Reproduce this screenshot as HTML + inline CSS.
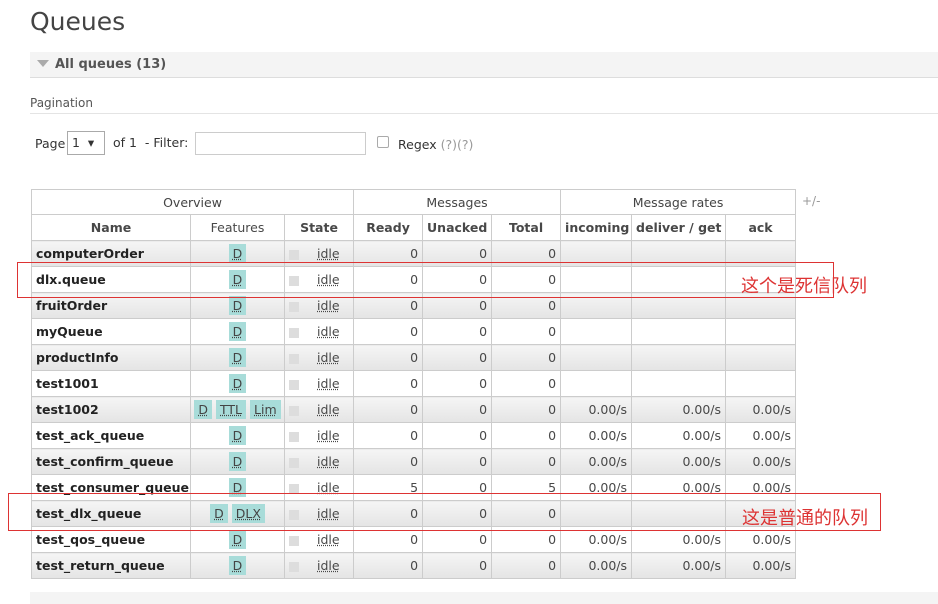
<!DOCTYPE html>
<html><head><meta charset="utf-8"><style>
body{margin:0;width:938px;height:601px;background:#fff;font-family:"DejaVu Sans","Liberation Sans",sans-serif;color:#484848;position:relative;overflow:hidden}
.a{position:absolute}
h1{position:absolute;left:30px;top:7px;margin:0;font-weight:normal;font-size:25px;color:#444;font-family:"DejaVu Sans",sans-serif}
.bar{left:30px;top:52px;width:908px;height:25px;background:#f4f4f4;border-bottom:1px solid #ddd}
table{position:absolute;left:31px;top:189px;width:764px;border-collapse:collapse;table-layout:fixed;font-size:12.5px}
td,th{border:1px solid #ccc;padding:0 4px;height:26px;white-space:nowrap;overflow:hidden;box-sizing:border-box}
tr.h1 th{height:25px}
th{font-size:12.5px;background:#fff}
.h1 th{font-weight:normal;color:#444}
tr.g td{background:linear-gradient(#f5f5f5,#e4e4e4)}
td.n{font-weight:bold;color:#222;text-align:left}
td.r{text-align:right}
td.c{text-align:center}
.t{background:#a8dcd9;padding:2px 4px;margin:0 2px;text-decoration:underline dotted;color:#444}
.cb{display:inline-block;width:10px;height:10px;background:#ddd;vertical-align:middle;margin-right:18px}
.i{text-decoration:underline dotted}
.red{position:absolute;border:1px solid #d33}
.cn{position:absolute;color:#d33;font-size:18px;font-family:"Noto Sans CJK SC",sans-serif}
</style></head><body>
<h1>Queues</h1>
<div class="a bar"></div>
<div class="a" style="left:37px;top:60px;width:0;height:0;border-left:6px solid transparent;border-right:6px solid transparent;border-top:7px solid #aaa"></div>
<div class="a" style="left:55px;top:57px;font-size:13px;font-weight:bold;color:#555">All queues (13)</div>
<div class="a" style="left:30px;top:96px;font-size:12px;color:#555">Pagination</div>
<div class="a" style="left:30px;top:113px;width:908px;border-top:1px solid #e4e4e4"></div>
<div class="a" style="left:35px;top:136px;font-size:12.5px;color:#333">Page</div>
<div class="a" style="left:67px;top:131px;width:36px;height:22px;border:1px solid #aaa;font-size:12.5px;line-height:22px;color:#333">&nbsp;1 &nbsp;▾</div>
<div class="a" style="left:113px;top:135px;font-size:12.5px;color:#333">of 1 &nbsp;- Filter:</div>
<div class="a" style="left:195px;top:132px;width:169px;height:21px;border:1px solid #ccc"></div>
<div class="a" style="left:377px;top:136px;width:10px;height:10px;border:1px solid #aaa;border-radius:2px"></div>
<div class="a" style="left:398px;top:137px;font-size:12.5px;color:#333">Regex <span style="color:#999">(?)(?)</span></div>
<div class="a" style="left:802px;top:194px;font-size:12px;color:#999">+/-</div>
<table>
<colgroup><col style="width:159px"><col style="width:94px"><col style="width:69px"><col style="width:69px"><col style="width:69px"><col style="width:69px"><col style="width:71px"><col style="width:94px"><col style="width:70px"></colgroup>
<tr class="h1"><th colspan="3">Overview</th><th colspan="3">Messages</th><th colspan="3">Message rates</th></tr>
<tr><th>Name</th><th style="font-weight:normal">Features</th><th>State</th><th>Ready</th><th>Unacked</th><th>Total</th><th>incoming</th><th>deliver / get</th><th>ack</th></tr>
<tr class="g"><td class="n">computerOrder</td><td class="c"><span class="t">D</span></td><td><span class="cb"></span><span class="i">idle</span></td><td class="r">0</td><td class="r">0</td><td class="r">0</td><td></td><td></td><td></td></tr>
<tr><td class="n">dlx.queue</td><td class="c"><span class="t">D</span></td><td><span class="cb"></span><span class="i">idle</span></td><td class="r">0</td><td class="r">0</td><td class="r">0</td><td></td><td></td><td></td></tr>
<tr class="g"><td class="n">fruitOrder</td><td class="c"><span class="t">D</span></td><td><span class="cb"></span><span class="i">idle</span></td><td class="r">0</td><td class="r">0</td><td class="r">0</td><td></td><td></td><td></td></tr>
<tr><td class="n">myQueue</td><td class="c"><span class="t">D</span></td><td><span class="cb"></span><span class="i">idle</span></td><td class="r">0</td><td class="r">0</td><td class="r">0</td><td></td><td></td><td></td></tr>
<tr class="g"><td class="n">productInfo</td><td class="c"><span class="t">D</span></td><td><span class="cb"></span><span class="i">idle</span></td><td class="r">0</td><td class="r">0</td><td class="r">0</td><td></td><td></td><td></td></tr>
<tr><td class="n">test1001</td><td class="c"><span class="t">D</span></td><td><span class="cb"></span><span class="i">idle</span></td><td class="r">0</td><td class="r">0</td><td class="r">0</td><td></td><td></td><td></td></tr>
<tr class="g"><td class="n">test1002</td><td class="c" style="padding:0"><span class="t">D</span><span class="t">TTL</span><span class="t">Lim</span></td><td><span class="cb"></span><span class="i">idle</span></td><td class="r">0</td><td class="r">0</td><td class="r">0</td><td class="r">0.00/s</td><td class="r">0.00/s</td><td class="r">0.00/s</td></tr>
<tr><td class="n">test_ack_queue</td><td class="c"><span class="t">D</span></td><td><span class="cb"></span><span class="i">idle</span></td><td class="r">0</td><td class="r">0</td><td class="r">0</td><td class="r">0.00/s</td><td class="r">0.00/s</td><td class="r">0.00/s</td></tr>
<tr class="g"><td class="n">test_confirm_queue</td><td class="c"><span class="t">D</span></td><td><span class="cb"></span><span class="i">idle</span></td><td class="r">0</td><td class="r">0</td><td class="r">0</td><td class="r">0.00/s</td><td class="r">0.00/s</td><td class="r">0.00/s</td></tr>
<tr><td class="n">test_consumer_queue</td><td class="c"><span class="t">D</span></td><td><span class="cb"></span><span class="i">idle</span></td><td class="r">5</td><td class="r">0</td><td class="r">5</td><td class="r">0.00/s</td><td class="r">0.00/s</td><td class="r">0.00/s</td></tr>
<tr class="g"><td class="n">test_dlx_queue</td><td class="c"><span class="t">D</span><span class="t">DLX</span></td><td><span class="cb"></span><span class="i">idle</span></td><td class="r">0</td><td class="r">0</td><td class="r">0</td><td></td><td></td><td></td></tr>
<tr><td class="n">test_qos_queue</td><td class="c"><span class="t">D</span></td><td><span class="cb"></span><span class="i">idle</span></td><td class="r">0</td><td class="r">0</td><td class="r">0</td><td class="r">0.00/s</td><td class="r">0.00/s</td><td class="r">0.00/s</td></tr>
<tr class="g"><td class="n">test_return_queue</td><td class="c"><span class="t">D</span></td><td><span class="cb"></span><span class="i">idle</span></td><td class="r">0</td><td class="r">0</td><td class="r">0</td><td class="r">0.00/s</td><td class="r">0.00/s</td><td class="r">0.00/s</td></tr>
</table>
<div class="red" style="left:17px;top:262px;width:815px;height:34px"></div>
<div class="cn" style="left:741px;top:272px">这个是死信队列</div>
<div class="red" style="left:8px;top:493px;width:871px;height:36px"></div>
<div class="cn" style="left:742px;top:504px">这是普通的队列</div>
<div class="a" style="left:30px;top:592px;width:908px;height:12px;background:#f4f4f4"></div>
</body></html>
